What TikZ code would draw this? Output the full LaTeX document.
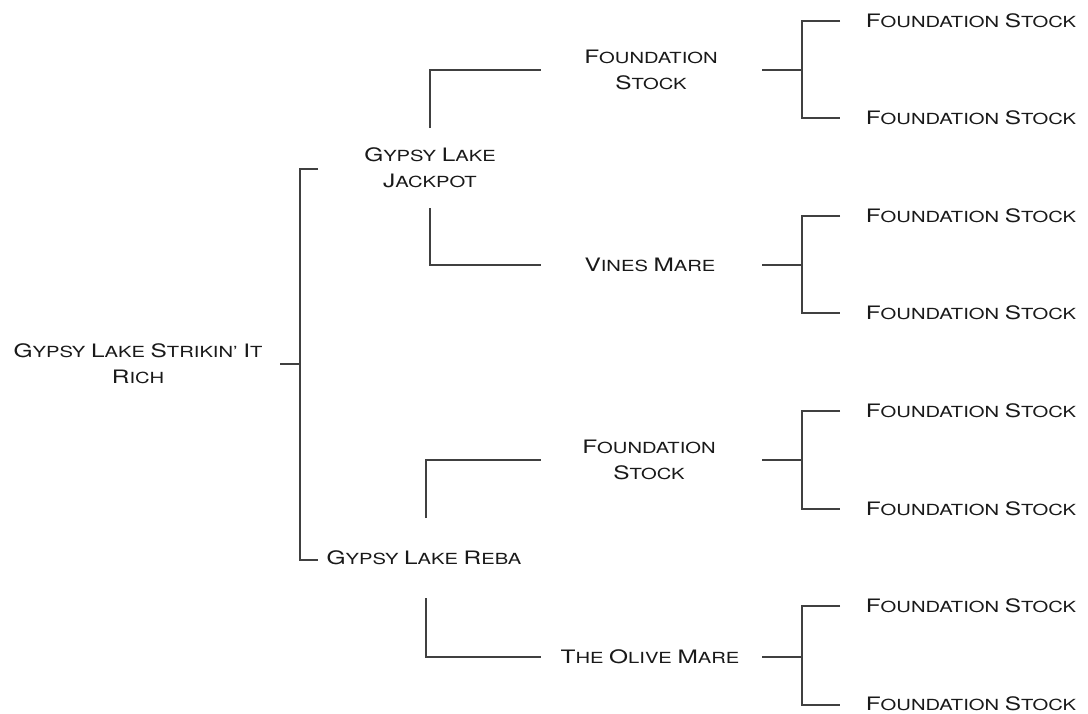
\documentclass[tikz,border=0pt]{standalone}
\usepackage{fontspec}
\setmainfont{TeX Gyre Heros}[FakeStretch=1.32]
\newcommand\Up[1]{{\fontsize{18.5}{26}\selectfont #1}}
\begin{document}
\begin{tikzpicture}[x=1pt,y=-1pt,
  lbl/.style={font=\fontsize{15.3}{26}\selectfont, align=center, inner sep=0pt, text=black!90},
  ln/.style={draw=black!75, line width=1.4pt}]
\useasboundingbox (0,0) rectangle (1088,713);
% texts
\node[lbl] (root) at (138,364) {\Up{G}YPSY \Up{L}AKE \Up{S}TRIKIN' \Up{I}T\\\Up{R}ICH};
\node[lbl] (g1) at (430,168) {\Up{G}YPSY \Up{L}AKE\\\Up{J}ACKPOT};
\node[lbl] (g2) at (424,558) {\Up{G}YPSY \Up{L}AKE \Up{R}EBA};
\node[lbl] (s1) at (651,70) {\Up{F}OUNDATION\\\Up{S}TOCK};
\node[lbl] (s2) at (650,265) {\Up{V}INES \Up{M}ARE};
\node[lbl] (s3) at (649,460) {\Up{F}OUNDATION\\\Up{S}TOCK};
\node[lbl] (s4) at (650,657) {\Up{T}HE \Up{O}LIVE \Up{M}ARE};
\foreach \i/\y in {1/21,2/118,3/216,4/313,5/411,6/509,7/606,8/704}
  \node[lbl] (f\i) at (971,\y) {\Up{F}OUNDATION \Up{S}TOCK};
% root connector
\coordinate (r0) at (280,364);
\coordinate (rj) at (300,364);
\coordinate (rA) at (318,169);
\coordinate (rB) at (318,560);
\draw[ln] (r0) -- (rj);
\draw[ln] (rA) -| (rj) |- (rB);
% generation 1 connectors
\coordinate (g1t) at (430,128);
\coordinate (g1b) at (430,208);
\coordinate (g2t) at (426,518);
\coordinate (g2b) at (426,598);
\coordinate (s1w) at (541,70);
\coordinate (s2w) at (541,265);
\coordinate (s3w) at (541,460);
\coordinate (s4w) at (541,657);
\draw[ln] (g1t) |- (s1w);
\draw[ln] (g1b) |- (s2w);
\draw[ln] (g2t) |- (s3w);
\draw[ln] (g2b) |- (s4w);
% generation 2 connectors
\foreach \s/\y/\a/\b/\ya/\yb in {1/70/1/2/21/118, 2/265/3/4/216/313, 3/460/5/6/411/509, 4/657/7/8/606/705}{
  \coordinate (se\s) at (762,\y);
  \coordinate (sj\s) at (802,\y);
  \coordinate (fw\a) at (840,\ya);
  \coordinate (fw\b) at (840,\yb);
  \draw[ln] (se\s) -- (sj\s);
  \draw[ln] (fw\a) -| (sj\s) |- (fw\b);
}
\end{tikzpicture}
\end{document}
